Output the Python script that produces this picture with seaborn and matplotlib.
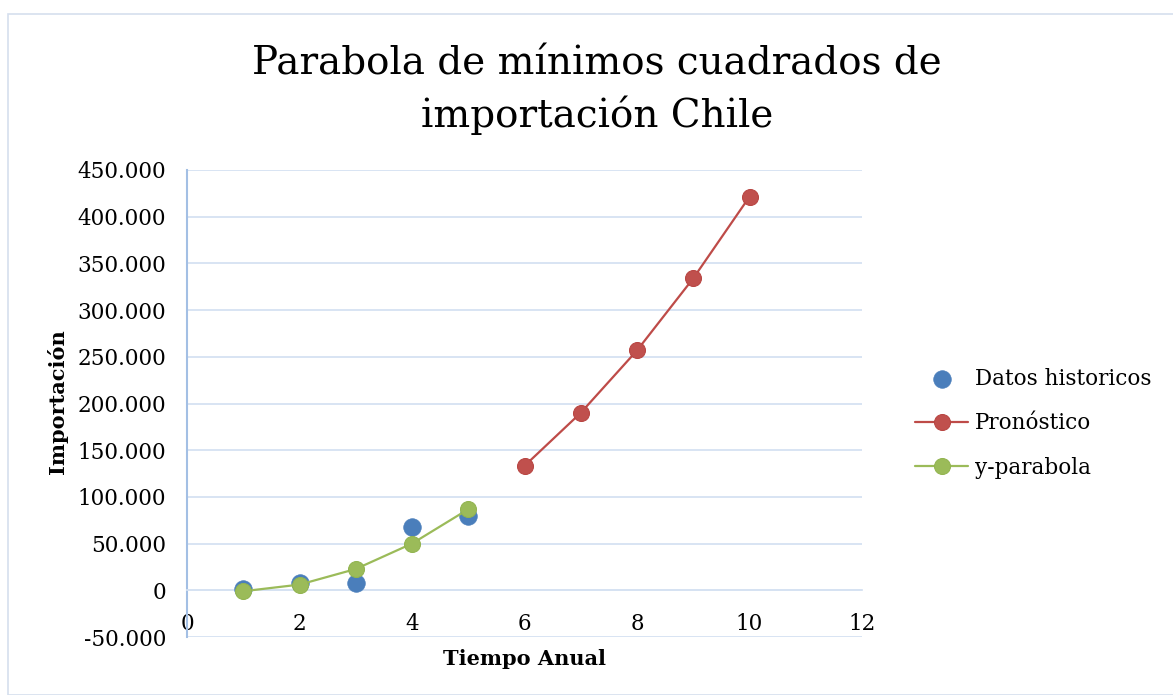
import matplotlib
matplotlib.use("Agg")
import matplotlib.pyplot as plt
from matplotlib.patches import Rectangle
from matplotlib.ticker import FuncFormatter, MultipleLocator
import seaborn as sns
import pandas as pd

# Historical imports (years 1-5)
hist_t = [1, 2, 3, 4, 5]
hist_y = [1000, 7500, 8300, 67800, 79300]

# Least-squares parabola fitted values (years 1-5)
parab_t = [1, 2, 3, 4, 5]
parab_y = [-1000, 6100, 22800, 50000, 86800]

# Forecast (years 6-10)
fc_t = [6, 7, 8, 9, 10]
fc_y = [133200, 190000, 256800, 334000, 421400]

title_lines = ["Parabola de mínimos cuadrados de", "importación Chile"]
xlabel = "Tiempo Anual"
ylabel = "Importación"
x_ticks = [0, 2, 4, 6, 8, 10, 12]

sns.set_style("white")
plt.rcParams["font.family"] = ["DejaVu Serif"]
plt.rcParams["text.color"] = "black"
plt.rcParams["axes.labelcolor"] = "black"

W, H = 1173, 695
fig = plt.figure(figsize=(W / 100, H / 100), dpi=100)
fig.patch.set_facecolor("white")
fig.patches.append(Rectangle((8 / W, 0), 1, 1 - 14 / H, transform=fig.transFigure,
                             fill=False, edgecolor="#D5DFEE", linewidth=1.2))

ax = fig.add_axes([187 / W, 1 - 637 / H, (862 - 187) / W, (637 - 170) / H])

df_hist = pd.DataFrame({"t": hist_t, "y": hist_y})
df_fc = pd.DataFrame({"t": fc_t, "y": fc_y})
df_par = pd.DataFrame({"t": parab_t, "y": parab_y})

sns.scatterplot(data=df_hist, x="t", y="y", ax=ax, color="#4A7EBB", s=160,
                edgecolor="#4A7EBB", linewidth=0.5, label="Datos historicos", zorder=3)
sns.lineplot(data=df_fc, x="t", y="y", ax=ax, color="#BE4B48", linewidth=1.6,
             marker="o", markersize=11.5, markerfacecolor="#C0504D",
             markeredgecolor="#B84542", label="Pronóstico", zorder=3)
sns.lineplot(data=df_par, x="t", y="y", ax=ax, color="#9BBB59", linewidth=1.6,
             marker="o", markersize=11.5, markerfacecolor="#9BBB59",
             markeredgecolor="#92B450", label="y-parabola", zorder=4)

ax.set_xlim(0, 12)
ax.set_ylim(-50000, 450000)
ax.set_xticks(x_ticks)
ax.yaxis.set_major_locator(MultipleLocator(50000))
ax.yaxis.set_major_formatter(FuncFormatter(lambda v, p: f"{int(round(v)):,}".replace(",", ".")))
ax.grid(axis="y", color="#D6E2F2", linewidth=1.3)
ax.set_axisbelow(True)

for s in ["top", "right"]:
    ax.spines[s].set_visible(False)
ax.spines["left"].set_color("#A3BFE4")
ax.spines["left"].set_linewidth(1.5)
ax.spines["bottom"].set_position(("data", 0))
ax.spines["bottom"].set_color("#D6E2F2")
ax.spines["bottom"].set_linewidth(1.3)

ax.tick_params(axis="both", length=0, labelsize=15.5, colors="black")
ax.tick_params(axis="x", pad=16)
ax.tick_params(axis="y", pad=15)

ax.set_xlabel(xlabel, fontsize=15, fontweight="bold", labelpad=0)
ax.xaxis.set_label_coords(0.5, -0.025, transform=ax.transAxes)
ax.set_ylabel(ylabel, fontsize=15, fontweight="bold")
ax.yaxis.set_label_coords((68 - 187) / (862 - 187), 0.505)

fig.text(597 / W, 1 - 64 / H, title_lines[0], ha="center", va="center",
         fontsize=28, color="black")
fig.text(597 / W, 1 - 115 / H, title_lines[1], ha="center", va="center",
         fontsize=28, color="black")

leg = ax.legend(loc="upper left", bbox_to_anchor=(906 / W, 1 - 359 / H),
                bbox_transform=fig.transFigure, frameon=False, fontsize=15.5,
                handlelength=2.5, handletextpad=0.3, labelspacing=1.05,
                borderaxespad=0)
for t in leg.get_texts():
    t.set_color("black")

fig.savefig("out.png", dpi=100, facecolor="white")
